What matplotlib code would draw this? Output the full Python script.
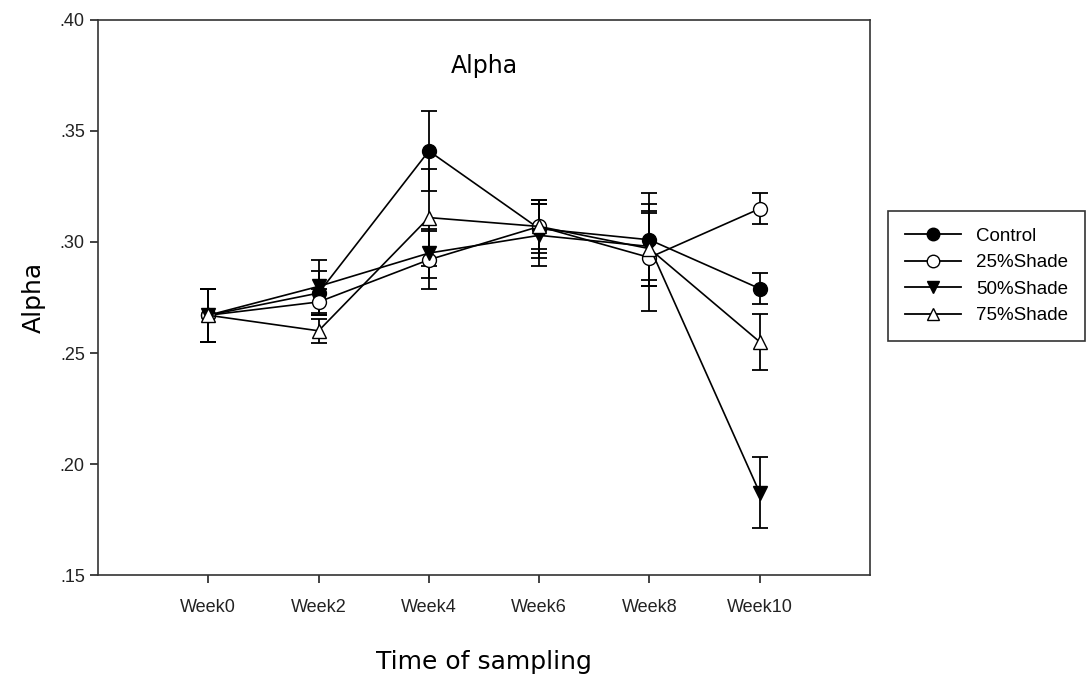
import matplotlib
matplotlib.use('Agg')
import matplotlib.pyplot as plt
from matplotlib.lines import Line2D
import numpy as np

weeks = ['Week0', 'Week2', 'Week4', 'Week6', 'Week8', 'Week10']
control = [0.267, 0.277, 0.341, 0.306, 0.301, 0.279]
control_err = [0.012, 0.010, 0.018, 0.013, 0.021, 0.007]
shade25 = [0.267, 0.273, 0.292, 0.307, 0.293, 0.315]
shade25_err = [0.012, 0.006, 0.013, 0.012, 0.024, 0.007]
shade50 = [0.267, 0.280, 0.295, 0.303, 0.298, 0.187]
shade50_err = [0.012, 0.012, 0.011, 0.014, 0.015, 0.016]
shade75 = [0.267, 0.260, 0.311, 0.307, 0.297, 0.255]
shade75_err = [0.012, 0.0055, 0.022, 0.010, 0.017, 0.0125]
yticks = [0.15, 0.20, 0.25, 0.30, 0.35, 0.40]
ytick_labels = ['.15', '.20', '.25', '.30', '.35', '.40']

plt.rcParams['font.family'] = ['Liberation Sans', 'DejaVu Sans']

fig = plt.figure(figsize=(10.9, 6.8), dpi=100)
ax = fig.add_axes([0.0899, 0.1544, 0.7083, 0.8162])

x = np.arange(len(weeks))
series = [
    ('Control', control, control_err, 'o', 'black'),
    ('25%Shade', shade25, shade25_err, 'o', 'white'),
    ('50%Shade', shade50, shade50_err, 'v', 'black'),
    ('75%Shade', shade75, shade75_err, '^', 'white'),
]
handles = []
for name, vals, errs, mk, fc in series:
    ax.errorbar(x, vals, yerr=errs, color='black', marker=mk,
                markerfacecolor=fc, markeredgecolor='black', markersize=10,
                linewidth=1.2, elinewidth=1.3, capsize=6, capthick=1.3)
    handles.append(Line2D([], [], color='black', marker=mk, markerfacecolor=fc,
                          markeredgecolor='black', markersize=9, linewidth=1.3,
                          label=name))

ax.set_xlim(-1, 6)
ax.set_ylim(0.15, 0.40)
ax.set_xticks(x)
ax.set_xticklabels(weeks, fontsize=13)
ax.set_yticks(yticks)
ax.set_yticklabels(ytick_labels, fontsize=13)
ax.tick_params(direction='out', length=6, width=1.2, colors='#222222')
ax.tick_params(axis='x', pad=11)
for sp in ax.spines.values():
    sp.set_linewidth(1.2)
    sp.set_color('#333333')

ax.text(0.5, 0.917, 'Alpha', transform=ax.transAxes, ha='center', va='center',
        fontsize=17, family='DejaVu Sans')
ax.set_ylabel('Alpha', fontsize=18, family='DejaVu Sans', labelpad=10)
ax.set_xlabel('Time of sampling', fontsize=18, family='DejaVu Sans', labelpad=25)

leg = ax.legend(handles=handles, loc='center left', bbox_to_anchor=(0.8147, 0.594),
                bbox_transform=fig.transFigure, fontsize=13.5, frameon=True,
                fancybox=False, edgecolor='black', handlelength=3.0,
                handletextpad=0.8, borderpad=0.9, labelspacing=0.5,
                borderaxespad=0)
leg.get_frame().set_linewidth(1.2)

fig.savefig('out.png', dpi=100)
